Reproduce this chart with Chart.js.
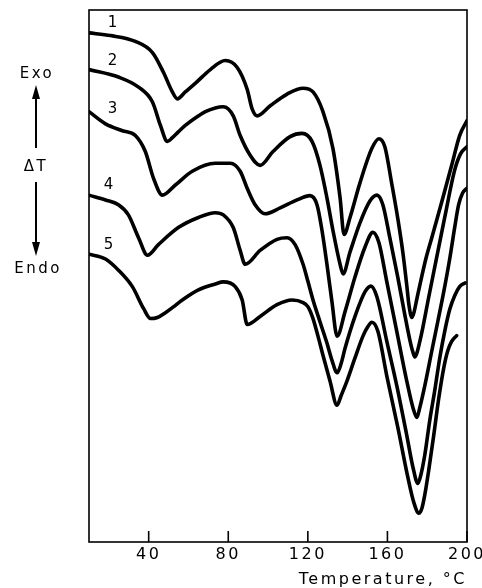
<!DOCTYPE html>
<html>
<head>
<meta charset="utf-8">
<script src="https://cdn.jsdelivr.net/npm/chart.js@4.4.1/dist/chart.umd.min.js"></script>
<style>
  html, body { margin: 0; padding: 0; background: #fff; }
  #wrap { width: 482px; height: 588px; position: relative; }
</style>
</head>
<body>
<div id="wrap"><canvas id="c"></canvas></div>
<script>
// ---- Data (temperature in °C, ΔT in arbitrary units) ----
const tickTemps = [40, 80, 120, 160, 200];

const temp1 = [10, 20.8, 33.3, 41.9, 47.4, 51.9, 54.4, 58.4, 63.4, 71.0, 78.5, 84.5, 89.5, 92.0, 94.5, 101.1, 109.6, 117.6, 122.6, 127.6, 132.6, 136.2, 138.2, 141.2, 146.2, 152.2, 155.7, 158.7, 162.2, 165.3, 167.8, 169.8, 170.8, 172.3, 173.3, 174.8, 176.3, 179.3, 182.3, 187.3, 192.3, 196.3, 200];
const dT1   = [95.7, 95.2, 94.1, 92.0, 88.3, 84.6, 83.3, 84.6, 86.2, 88.8, 90.5, 89.2, 85.1, 81.4, 80.1, 82.0, 84.2, 85.3, 84.6, 80.9, 74.0, 64.7, 57.8, 61.0, 67.5, 74.0, 75.8, 74.3, 67.3, 60.6, 54.3, 48.0, 44.6, 42.2, 43.1, 45.7, 48.3, 53.2, 57.2, 63.9, 70.8, 76.4, 79.2];

const temp2 = [10, 24.8, 34.9, 41.9, 45.9, 49.4, 51.9, 54.9, 58.4, 63.4, 68.5, 73.5, 77.5, 82.5, 86.0, 91.0, 96.0, 102.5, 111.1, 117.1, 122.1, 126.1, 129.6, 132.6, 136.2, 137.7, 141.2, 146.2, 151.2, 154.7, 157.7, 161.2, 165.2, 168.7, 171.2, 172.8, 173.8, 174.8, 176.3, 177.8, 180.8, 183.8, 188.8, 193.8, 196.8, 200];
const dT2   = [88.8, 87.4, 85.5, 82.7, 78.3, 75.3, 76.0, 77.1, 78.3, 79.7, 80.9, 81.6, 81.8, 80.1, 76.4, 72.7, 70.8, 73.4, 76.2, 76.8, 75.3, 70.8, 64.7, 58.6, 52.2, 50.4, 54.5, 60.0, 64.1, 65.2, 63.4, 57.2, 49.8, 42.8, 38.1, 35.7, 34.8, 35.5, 37.7, 40.3, 46.1, 51.7, 61.0, 69.9, 73.0, 74.3];

const temp3 = [10, 18.3, 26.8, 33.3, 38.3, 42.4, 46.9, 53.4, 61.9, 73.5, 81.0, 86.0, 89.5, 93.5, 98.5, 106.1, 114.6, 121.1, 124.6, 127.1, 129.6, 132.1, 134.7, 138.7, 143.7, 148.7, 152.7, 155.7, 159.7, 164.7, 169.7, 172.8, 174.8, 176.3, 178.8, 182.3, 185.3, 188.3, 191.3, 193.8, 195.8, 197.8, 200];
const dT3   = [80.9, 78.6, 77.3, 76.4, 73.4, 68.4, 65.2, 67.1, 69.7, 71.2, 71.2, 69.7, 66.5, 63.4, 61.7, 62.8, 64.3, 65.1, 63.4, 58.6, 52.2, 45.2, 38.7, 43.3, 49.8, 55.4, 58.2, 56.3, 48.9, 39.6, 30.3, 25.3, 23.4, 25.3, 29.4, 35.9, 41.4, 47.0, 53.2, 59.1, 63.4, 65.6, 66.5];

const temp4 = [10, 18.3, 24.8, 29.8, 34.9, 39.4, 44.9, 54.9, 65.0, 73.5, 77.5, 82.5, 86.0, 88.5, 96.0, 104.5, 109.6, 113.6, 117.6, 120.1, 122.6, 126.1, 129.6, 132.1, 134.7, 136.7, 138.7, 143.7, 148.7, 151.7, 154.7, 159.7, 164.7, 169.7, 172.8, 175.3, 176.8, 178.8, 181.3, 183.8, 186.3, 188.8, 191.3, 193.8, 196.3, 199];
const dT4   = [65.2, 64.3, 63.4, 61.5, 57.2, 53.9, 55.9, 59.1, 61.0, 61.9, 61.5, 59.1, 54.8, 52.2, 54.8, 56.9, 57.2, 55.9, 52.2, 48.9, 45.5, 41.4, 37.4, 34.2, 31.8, 33.5, 36.4, 42.4, 47.0, 48.1, 46.1, 37.7, 29.4, 20.1, 14.1, 11.0, 12.6, 16.4, 22.9, 28.5, 34.6, 39.6, 43.7, 46.3, 48.0, 48.7];

const temp5 = [10, 18.3, 24.8, 31.8, 37.4, 40.9, 44.4, 48.4, 52.4, 56.9, 65.0, 73.5, 77.5, 83.5, 87.0, 89.5, 96.0, 104.5, 112.1, 117.6, 120.1, 122.6, 125.1, 127.6, 131.1, 134.7, 136.7, 139.7, 143.7, 147.7, 150.2, 152.2, 155.2, 159.7, 165.2, 170.2, 173.3, 175.8, 177.3, 178.8, 180.8, 183.3, 185.8, 188.3, 190.3, 192.3, 194.8];
const dT5   = [54.1, 53.2, 51.1, 48.0, 43.9, 42.0, 42.2, 43.1, 44.2, 45.5, 47.4, 48.5, 48.9, 48.0, 45.5, 40.9, 42.4, 44.6, 45.5, 45.0, 44.2, 42.0, 38.7, 35.1, 30.3, 25.7, 27.5, 30.3, 34.6, 38.7, 40.5, 41.3, 39.6, 31.2, 21.6, 12.3, 7.4, 5.4, 6.3, 8.9, 13.6, 20.1, 27.0, 32.7, 35.9, 37.7, 38.8];

const curveNames = ['1', '2', '3', '4', '5'];
const curveLabelTemp = [22, 22, 22, 20, 20];
const curveLabelDT   = [97.6, 90.3, 81.4, 67.1, 55.9];

// ---- Build datasets ----
const series = [[temp1, dT1], [temp2, dT2], [temp3, dT3], [temp4, dT4], [temp5, dT5]];
const datasets = series.map(([t, d], i) => ({
  label: curveNames[i],
  data: t.map((v, k) => ({ x: v, y: d[k] })),
  borderColor: '#000',
  borderWidth: 3.6,
  pointRadius: 0,
  fill: false,
  cubicInterpolationMode: 'monotone',
  borderCapStyle: 'round',
  borderJoinStyle: 'round'
}));

const SPACING = '2.5px';
const FONT = '"DejaVu Sans", sans-serif';

const deco = {
  id: 'deco',
  beforeUpdate(chart) { chart.ctx.letterSpacing = SPACING; },
  beforeLayout(chart) { chart.ctx.letterSpacing = SPACING; },
  beforeDraw(chart) { chart.ctx.letterSpacing = SPACING; },
  afterDraw(chart) {
    const { ctx, chartArea: a, scales: { x, y } } = chart;
    ctx.save();
    ctx.letterSpacing = SPACING;
    ctx.strokeStyle = '#000';
    ctx.fillStyle = '#000';
    ctx.lineWidth = 1.6;
    ctx.strokeRect(a.left, a.top, a.right - a.left, a.bottom - a.top);
    // inward tick marks
    tickTemps.forEach(v => {
      const px = x.getPixelForValue(v);
      ctx.beginPath();
      ctx.moveTo(px, a.bottom);
      ctx.lineTo(px, a.bottom - 11);
      ctx.stroke();
    });
    // curve numbers
    ctx.font = '15px ' + FONT;
    ctx.textAlign = 'center';
    ctx.textBaseline = 'middle';
    curveNames.forEach((s, i) => {
      ctx.fillText(s, x.getPixelForValue(curveLabelTemp[i]) + 1, y.getPixelForValue(curveLabelDT[i]));
    });
    // Exo / ΔT / Endo annotation
    const cx = a.left - 53;
    ctx.font = '15px ' + FONT;
    ctx.fillText('Exo', cx + 1, a.top + 64);
    ctx.fillText('\u0394T', cx, a.top + 157);
    ctx.fillText('Endo', cx + 2, a.top + 259);
    ctx.lineWidth = 2;
    ctx.beginPath();
    ctx.moveTo(cx, a.top + 86); ctx.lineTo(cx, a.top + 138);
    ctx.moveTo(cx, a.top + 172); ctx.lineTo(cx, a.top + 236);
    ctx.stroke();
    ctx.beginPath();
    ctx.moveTo(cx, a.top + 75); ctx.lineTo(cx - 4, a.top + 89); ctx.lineTo(cx + 4, a.top + 89); ctx.closePath();
    ctx.moveTo(cx, a.top + 246); ctx.lineTo(cx - 4, a.top + 232); ctx.lineTo(cx + 4, a.top + 232); ctx.closePath();
    ctx.fill();
    ctx.restore();
  }
};

new Chart(document.getElementById('c'), {
  type: 'line',
  data: { datasets },
  options: {
    responsive: true,
    maintainAspectRatio: false,
    animation: false,
    events: [],
    layout: { padding: { left: 89, right: 15, top: 10, bottom: 0 } },
    plugins: { legend: { display: false }, tooltip: { enabled: false } },
    scales: {
      x: {
        type: 'linear',
        min: 10,
        max: 200,
        afterBuildTicks: axis => { axis.ticks = tickTemps.map(v => ({ value: v })); },
        afterFit: axis => { axis.paddingLeft = 0; axis.paddingRight = 0; },
        grid: { display: false, drawTicks: false },
        border: { display: false },
        ticks: {
          color: '#000',
          padding: 5,
          maxRotation: 0,
          autoSkip: false,
          font: { family: FONT, size: 16, lineHeight: 1 }
        },
        title: {
          display: true,
          text: 'Temperature, °C',
          align: 'end',
          color: '#000',
          padding: { top: 4, bottom: 0 },
          font: { family: FONT, size: 16, lineHeight: 1 }
        }
      },
      y: {
        type: 'linear',
        min: 0,
        max: 100,
        display: false
      }
    }
  },
  plugins: [deco]
});
</script>
</body>
</html>
